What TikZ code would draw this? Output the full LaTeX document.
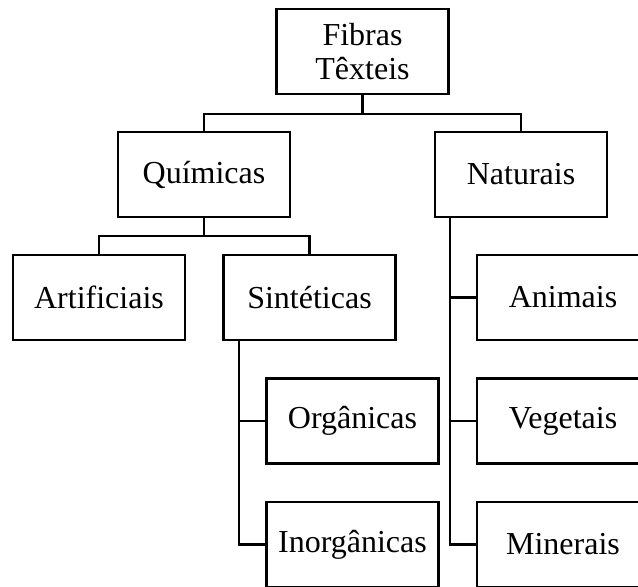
\documentclass[tikz,border=0pt]{standalone}
\usepackage{fontspec}
\setmainfont{Liberation Serif}
\usepackage{tikz}

\begin{document}
\begin{tikzpicture}[x=0.5pt,y=-0.5pt,
  caixa/.style={draw,line width=1.3pt,minimum width=86pt,minimum height=42.5pt,inner sep=0pt,align=center,font=\fontsize{16}{17}\selectfont},
  ramo/.style={line width=1.2pt}]
  \useasboundingbox (0,0) rectangle (638,587);
  \clip (0,0) rectangle (638,587);
  \node[caixa] (fib) at (362.5,51.5) {Fibras\\Têxteis};
  \node[caixa] (qui) at (204,174.5) {Químicas};
  \node[caixa] (nat) at (521,174.5) {Naturais};
  \node[caixa] (art) at (99,297.5) {Artificiais};
  \node[caixa] (sin) at (309.5,297.5) {Sintéticas};
  \node[caixa] (ani) at (563,297.5) {Animais};
  \node[caixa] (org) at (352.5,421) {Orgânicas};
  \node[caixa] (veg) at (563,421) {Vegetais};
  \node[caixa] (ino) at (352.5,544.5) {Inorgânicas};
  \node[caixa] (min) at (563,544.5) {Minerais};
  % ligacoes
  \coordinate (b1) at (362.5,114);
  \coordinate (b2) at (204,236);
  \draw[ramo] (fib.south) -- (b1);
  \draw[ramo] (qui.north) |- (b1) -| (nat.north);
  \draw[ramo] (qui.south) -- (b2);
  \draw[ramo] (art.north) |- (b2) -| (sin.north);
  \draw[ramo] ([xshift=8.5pt]sin.south west) coordinate (s1) |- (ino.west);
  \draw[ramo] (org.west) -- (org.west -| s1);
  \draw[ramo] ([xshift=8pt]nat.south west) coordinate (n1) |- (min.west);
  \draw[ramo] (ani.west) -- (ani.west -| n1);
  \draw[ramo] (veg.west) -- (veg.west -| n1);
\end{tikzpicture}
\end{document}
